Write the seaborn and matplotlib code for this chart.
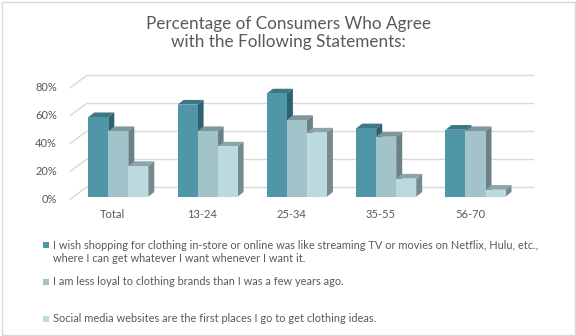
import numpy as np
import pandas as pd
import matplotlib
matplotlib.use("Agg")
import matplotlib.pyplot as plt
import seaborn as sns
from matplotlib.patches import Polygon, Rectangle
from matplotlib.transforms import ScaledTranslation

# --- data -------------------------------------------------------------
categories = ["Total", "13-24", "25-34", "35-55", "56-70"]
statements = [
    "I wish shopping for clothing in-store or online was like streaming TV or movies on Netflix, Hulu, etc.,\nwhere I can get whatever I want whenever I want it.",
    "I am less loyal to clothing brands than I was a few years ago.",
    "Social media websites are the first places I go to get clothing ideas.",
]
wish_streaming = [57, 66, 74, 49, 48]
less_loyal = [47, 47, 55, 43, 47]
social_media = [22, 36, 46, 13, 5]
y_ticks = [0, 20, 40, 60, 80]

# --- style ------------------------------------------------------------
front_colors = ["#5096a9", "#a3c3ca", "#bcd9df"]
top_colors = ["#3c7786", "#7e979c", "#8ea4a9"]
side_colors = ["#2e6170", "#6b8186", "#76898d"]
text_color = "#595959"
grid_color = "#d9d9d9"

df = pd.DataFrame({
    "group": categories * 3,
    "statement": np.repeat(statements, len(categories)),
    "pct": wish_streaming + less_loyal + social_media,
})

sns.set_theme(style="white")
plt.rcParams["font.family"] = ["Lato", "DejaVu Sans"]

W, H = 576, 336
fig = plt.figure(figsize=(W / 100, H / 100), dpi=100)
fig.patch.set_facecolor("white")

ax = fig.add_axes([73.65 / W, (H - 196.7) / H, 446.5 / W, 111.6 / H])
sns.barplot(data=df, x="group", y="pct", hue="statement", order=categories,
            hue_order=statements, palette=front_colors, width=0.672, gap=0,
            saturation=1, legend=False, linewidth=0, zorder=4, ax=ax)
ax.set_xlim(-0.5, 4.5)
ax.set_ylim(0, 80)
for s in ax.spines.values():
    s.set_visible(False)
ax.set_xticks([])
ax.set_yticks([])
ax.set_xlabel("")
ax.set_ylabel("")
ax.grid(False)
ax.patch.set_alpha(0)

# pixel -> data conversion for the oblique 3D projection
bbox = ax.get_window_extent()
sx = 5.0 / bbox.width
sy = 80.0 / bbox.height
x0, x1 = ax.get_xlim()

# back wall gridlines and the floor diagonals on the left wall
bdx, bdy = 13.3, 9.8
fdx, fdy = -3.4, -2.6
for v in y_ticks:
    ax.plot([x0 + bdx * sx, x1 + bdx * sx], [v + bdy * sy] * 2,
            color=grid_color, lw=1, zorder=0, clip_on=False)
    ax.plot([x0 + fdx * sx, x0 + bdx * sx], [v + fdy * sy, v + bdy * sy],
            color=grid_color, lw=1, zorder=0, clip_on=False)

# depth faces of each column
ddx, ddy = 6 * sx, 4.7 * sy
for k, cont in enumerate(ax.containers):
    for bar in cont:
        bx, bw, bh = bar.get_x(), bar.get_width(), bar.get_height()
        side = Polygon([(bx + bw, 0), (bx + bw, bh), (bx + bw + ddx, bh + ddy),
                        (bx + bw + ddx, ddy)], closed=True, fc=side_colors[k],
                       ec="none", zorder=2, clip_on=False)
        top = Polygon([(bx, bh), (bx + bw, bh), (bx + bw + ddx, bh + ddy),
                       (bx + ddx, bh + ddy)], closed=True, fc=top_colors[k],
                      ec="none", zorder=3, clip_on=False)
        ax.add_patch(side)
        ax.add_patch(top)

# axis labels on the front plane
ylab_tr = ax.transData + ScaledTranslation(-16.6 / 100, -2.6 / 100, fig.dpi_scale_trans)
for v in y_ticks:
    ax.text(x0, v, f"{v}%", transform=ylab_tr, ha="right", va="center",
            fontsize=8, color=text_color)
xlab_tr = ax.transData + ScaledTranslation(-5.5 / 100, -18.3 / 100, fig.dpi_scale_trans)
for i, c in enumerate(categories):
    ax.text(i, 0, c, transform=xlab_tr, ha="center", va="center",
            fontsize=8, color=text_color)

# title
fig.text(0.5, 1 - 33.3 / H,
         "Percentage of Consumers Who Agree\nwith the Following Statements:",
         ha="center", va="center", fontsize=12.3, color=text_color,
         linespacing=1.16)

# legend: key square beside the first line of each statement
legend_first_line = [245.0, 281.7, 318.3]
legend_centers = [251.65, 281.7, 318.3]
for color, label, first_px, center_px in zip(front_colors, statements,
                                             legend_first_line, legend_centers):
    fig.patches.append(Rectangle((43.3 / W, 1 - (first_px + 3.2) / H),
                                 6 / W, 6 / H, transform=fig.transFigure,
                                 fc=color, ec="none"))
    fig.text(52.7 / W, 1 - center_px / H, label, ha="left", va="center",
             fontsize=7.9, color=text_color, linespacing=1.21)

# chart frame
fig.patches.append(Rectangle((1.5 / W, 1.5 / H), (W - 3) / W, (H - 3) / H,
                             transform=fig.transFigure, fill=False,
                             ec=grid_color, lw=1))

fig.savefig("out.png", dpi=100)
